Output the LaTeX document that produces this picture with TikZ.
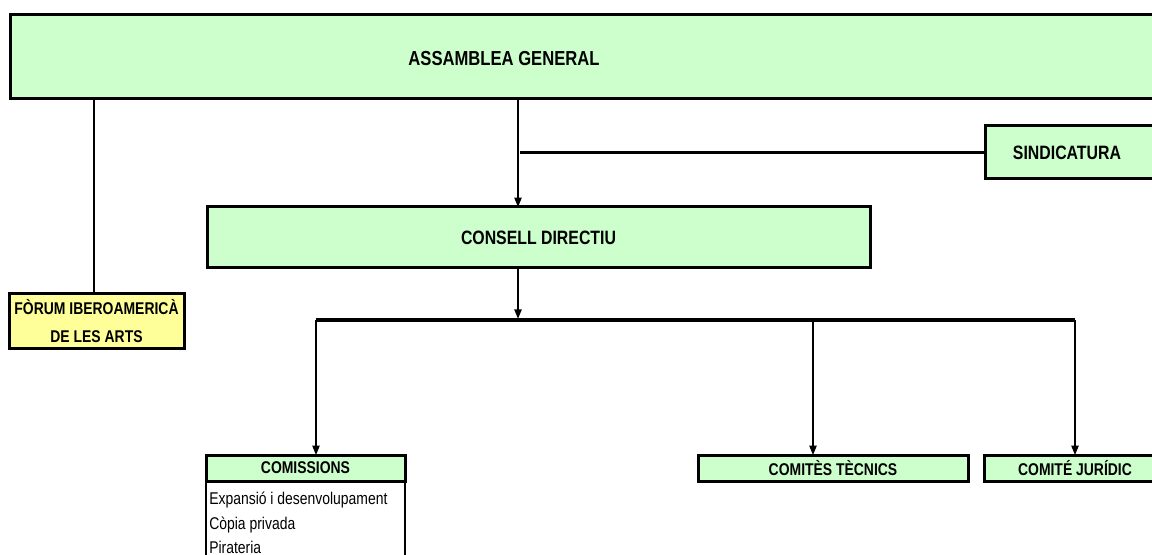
\documentclass[tikz,border=0pt]{standalone}
\usepackage{fontspec}
\setmainfont{Liberation Sans}[FakeStretch=0.82]
\usetikzlibrary{arrows.meta}
\definecolor{agreen}{HTML}{CCFFCC}
\definecolor{ayellow}{HTML}{FFFF99}
\tikzset{
  boxbase/.style={draw, line width=2.25pt, inner sep=0pt, outer sep=0pt, anchor=center},
  gbox/.style={boxbase, fill=agreen},
  ybox/.style={boxbase, fill=ayellow},
  hugetxt/.style={font=\fontsize{15.2}{18}\selectfont\bfseries},
  bigtxt/.style={font=\fontsize{14.5}{17}\selectfont\bfseries},
  midtxt/.style={font=\fontsize{12.75}{21}\selectfont\bfseries},
  listtxt/.style={font=\fontsize{12.75}{15}\selectfont, anchor=base west, inner sep=0pt},
  thinline/.style={line width=0.9pt},
  arr/.style={thinline, -{Triangle[length=7pt,width=5.5pt]}},
  barline/.style={line width=2.4pt},
}
\begin{document}
\begin{tikzpicture}[x=0.75pt,y=-0.75pt]
\useasboundingbox (0,0) rectangle (1152,555);
\clip (0,0) rectangle (1152,555);
% boxes
\node[gbox, minimum width=1155*0.75pt, minimum height=84*0.75pt] (ag) at (587.5,57) {};
\node[hugetxt, inner sep=0pt] (aglabel) at (504,59) {ASSAMBLEA GENERAL};
\node[gbox, minimum width=180*0.75pt, minimum height=53*0.75pt] (sind) at (1075,152.5) {};
\node[bigtxt, inner sep=0pt] (sindlabel) at (1067,153) {SINDICATURA};
\node[gbox, bigtxt, minimum width=663*0.75pt, minimum height=61*0.75pt] (cd) at (538.5,237.5) {CONSELL DIRECTIU};
\node[ybox, midtxt, align=center, minimum width=175*0.75pt, minimum height=55*0.75pt] (forum) at (96.5,321.5) {FÒRUM IBEROAMERICÀ\\DE LES ARTS};
\node[gbox, midtxt, minimum width=199*0.75pt, minimum height=26*0.75pt] (com) at (305.5,468) {COMISSIONS};
\node[gbox, midtxt, minimum width=270*0.75pt, minimum height=26*0.75pt] (ct) at (833,468) {COMITÈS TÈCNICS};
\node[gbox, midtxt, minimum width=182*0.75pt, minimum height=26*0.75pt] (cj) at (1075,468) {COMITÉ JURÍDIC};
% list under COMISSIONS
\coordinate (lbl) at (206,570);
\coordinate (lbr) at (405,570);
\draw[thinline] (com.south west) -- (com.south west |- lbl);
\draw[thinline] (com.south east) -- (com.south east |- lbr);
\node[listtxt] (l1) at (209,504) {Expansió i desenvolupament};
\node[listtxt] (l2) at (209,529) {Còpia privada};
\node[listtxt] (l3) at (209,553) {Pirateria};
% connectors
\coordinate (ax) at (518,0);
\coordinate (fx) at (94,0);
\coordinate (b1) at (316,320);
\coordinate (b2) at (813,320);
\coordinate (b3) at (1075,320);
\draw[arr] (ag.south -| ax) -- (cd.north -| ax);
\draw[barline] (sind.west) -- ([xshift=1.5pt]sind.west -| ax);
\draw[thinline] (ag.south -| fx) -- (forum.north -| fx);
\draw[barline] (b1) -- (b3);
\draw[arr] (cd.south -| ax) -- ([yshift=0.9pt]b1 -| ax);
\draw[arr] (b1) -- (com.north -| b1);
\draw[arr] (b2) -- (ct.north -| b2);
\draw[arr] (b3) -- (cj.north -| b3);
\end{tikzpicture}
\end{document}
